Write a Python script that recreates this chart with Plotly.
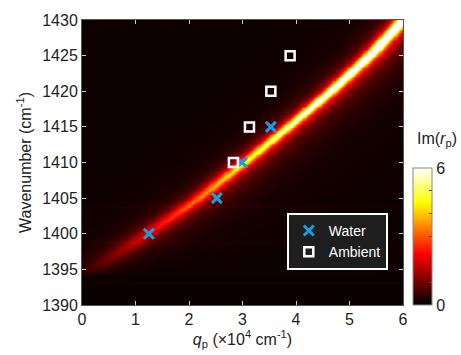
import numpy as np
import plotly.graph_objects as go

# Dispersion ridge (wavenumber -> q position, peak Im(rp), width)
ridge_wn = [1394, 1395, 1400, 1405, 1410, 1415, 1420, 1425, 1430]
ridge_q = [0.0, 0.2, 1.2, 2.17, 3.02, 3.84, 4.63, 5.36, 5.98]
ridge_amp = [0.0, 0.45, 1.8, 3.0, 4.2, 5.3, 6.4, 7.3, 8.0]
ridge_width = [0.3, 0.28, 0.22, 0.17, 0.145, 0.125, 0.115, 0.11, 0.105]

# Measured points
water_q = [1.25, 2.52, 2.99, 3.53]
water_wn = [1400, 1405, 1410, 1415]
ambient_q = [2.83, 3.13, 3.53, 3.89]
ambient_wn = [1410, 1415, 1420, 1425]

# faint horizontal rows seen in the map
stripe_wn = [1393.3, 1398.8, 1403.8]

q_grid = np.linspace(0, 6, 301)
wn_grid = np.linspace(1390, 1430, 201)
Q, W = np.meshgrid(q_grid, wn_grid)
q0 = np.interp(W, ridge_wn, ridge_q)
amp = np.interp(W, ridge_wn, ridge_amp, left=0)
wid = np.interp(W, ridge_wn, ridge_width)
d = Q - q0
core = amp / (1 + (d / wid) ** 2)
halo = np.where(d > 0, amp * 0.12 / (1 + (d / (4 * wid)) ** 2), 0)
Z = 0.1 + core + halo
for s in stripe_wn:
    idx = np.argmin(np.abs(wn_grid - s))
    Z[idx, :] += 0.12
Z = np.clip(Z, 0, 6)

hot = [[0, "rgb(0,0,0)"], [0.375, "rgb(255,0,0)"], [0.75, "rgb(255,255,0)"], [1, "rgb(255,255,255)"]]

font = "Liberation Sans, Arial, sans-serif"
fig = go.Figure()
fig.add_trace(go.Heatmap(
    x=q_grid, y=wn_grid, z=Z, zmin=0, zmax=6, colorscale=hot, zsmooth="best",
    showscale=True,
    colorbar=dict(
        x=1.031, xanchor="left", y=0, yanchor="bottom", len=0.48, lenmode="fraction",
        thickness=19, outlinecolor="#888", outlinewidth=1, xpad=0, ypad=0,
        tickvals=[0, 1, 2, 3, 4, 5, 6], ticktext=["0", "", "", "", "", "", "6"],
        ticks="inside", ticklen=3, tickcolor="#444",
        tickfont=dict(family=font, size=16, color="#222"),
    ),
    hoverinfo="skip",
))
fig.add_trace(go.Scatter(
    x=water_q, y=water_wn, mode="markers", name="Water",
    marker=dict(symbol="x-thin", size=10, color="#139fe0",
                line=dict(width=3, color="#139fe0")),
))
fig.add_trace(go.Scatter(
    x=ambient_q, y=ambient_wn, mode="markers", name="Ambient",
    marker=dict(symbol="square-open", size=9, color="white",
                line=dict(width=2.5, color="white")),
))

axis_common = dict(
    showgrid=False, zeroline=False, ticks="inside", ticklen=4, tickcolor="#ccc",
    mirror="ticks", showline=True, linecolor="#555", linewidth=1,
    tickfont=dict(family=font, size=16, color="#222"),
)
fig.update_layout(
    width=461, height=355,
    margin=dict(l=82, r=58, t=20, b=50, autoexpand=False),
    paper_bgcolor="white", plot_bgcolor="black",
    xaxis=dict(range=[0, 6], tickvals=[0, 1, 2, 3, 4, 5, 6], **axis_common,
               title=dict(text="<i>q</i><sub>p</sub> (×10<sup>4</sup> cm<sup>-1</sup>)",
                          font=dict(family=font, size=16, color="#222"), standoff=2)),
    yaxis=dict(range=[1390, 1430], tickvals=[1390, 1395, 1400, 1405, 1410, 1415, 1420, 1425, 1430],
               **axis_common,
               title=dict(text="Wavenumber (cm<sup>-1</sup>)",
                          font=dict(family=font, size=16, color="#222"), standoff=6)),
    legend=dict(x=0.638, y=0.323, xanchor="left", yanchor="top",
                bgcolor="#1e1e1e", bordercolor="white", borderwidth=2,
                font=dict(family=font, size=14, color="white"), itemwidth=30,
                entrywidth=48, entrywidthmode="pixels"),
    showlegend=True,
    annotations=[dict(text="Im(<i>r</i><sub>p</sub>)", x=1.037, y=0.58, xref="paper", yref="paper",
                      xanchor="left", yanchor="middle", showarrow=False,
                      font=dict(family=font, size=16, color="#222"))],
)
fig.write_html("out.html")
